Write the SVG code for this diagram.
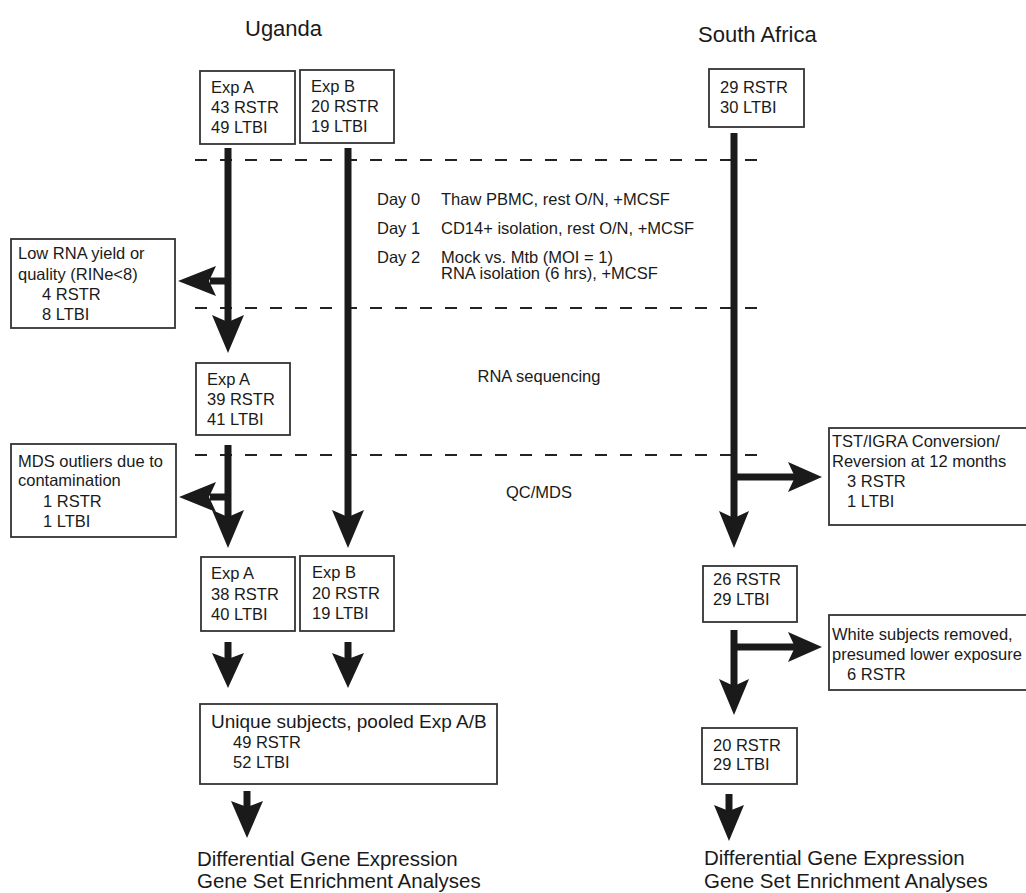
<svg xmlns="http://www.w3.org/2000/svg" width="1026" height="893" viewBox="0 0 1026 893">
<style>
text{font-family:"Liberation Sans",Arial,sans-serif;fill:#1a1a1a;font-size:16.5px}
.hdr{font-size:22px}
.big{font-size:20.5px}
.ttl{font-size:19px}
.box{fill:#fff;stroke:#333;stroke-width:1.8}
.dash{stroke:#222;stroke-width:2;stroke-dasharray:12 13;fill:none}
.shaft{stroke:#1a1a1a;stroke-width:7;fill:none}
.head{fill:#1a1a1a}
</style>
<rect width="1026" height="893" fill="#fff"/>
<text class="hdr" x="245" y="36">Uganda</text>
<text class="hdr" x="698" y="42">South Africa</text>
<g id="dividers">
<line class="dash" x1="195" y1="160" x2="768" y2="160"/>
<line class="dash" x1="195" y1="308" x2="768" y2="308"/>
<line class="dash" x1="195" y1="455" x2="768" y2="455"/>
</g>
<g id="steps">
<text x="377" y="205">Day 0</text><text x="441" y="205">Thaw PBMC, rest O/N, +MCSF</text>
<text x="377" y="234">Day 1</text><text x="441" y="234">CD14+ isolation, rest O/N, +MCSF</text>
<text x="377" y="263">Day 2</text><text x="441" y="263">Mock vs. Mtb (MOI = 1)</text>
<text x="441" y="279">RNA isolation (6 hrs), +MCSF</text>
<text x="539" y="382" text-anchor="middle">RNA sequencing</text>
<text x="539" y="498" text-anchor="middle">QC/MDS</text>
</g>
<g id="connectors">
<line class="shaft" x1="228" y1="148" x2="228" y2="322"/>
<line class="shaft" x1="228" y1="281" x2="210" y2="281"/>
<path class="head" d="M178,281 L216,266 L209,281 L216,296 Z"/>
<path class="head" d="M228,353 L212,315 L228,322 L244,315 Z"/>
<line class="shaft" x1="228" y1="445" x2="228" y2="517"/>
<line class="shaft" x1="228" y1="497" x2="210" y2="497"/>
<path class="head" d="M179,497 L216,482 L209,497 L216,512 Z"/>
<path class="head" d="M228,548 L212,510 L228,517 L244,510 Z"/>
<line class="shaft" x1="348" y1="148" x2="348" y2="517"/>
<path class="head" d="M348,548 L332,510 L348,517 L364,510 Z"/>
<line class="shaft" x1="228" y1="642" x2="228" y2="660"/>
<path class="head" d="M228,688 L212,653 L228,659 L244,653 Z"/>
<line class="shaft" x1="348" y1="642" x2="348" y2="660"/>
<path class="head" d="M348,688 L332,653 L348,659 L364,653 Z"/>
<line class="shaft" x1="247" y1="791" x2="247" y2="808"/>
<path class="head" d="M247,838 L231,801 L247,807 L263,801 Z"/>
<line class="shaft" x1="734" y1="133" x2="734" y2="518"/>
<line class="shaft" x1="734" y1="477" x2="795" y2="477"/>
<path class="head" d="M822,477 L788,462 L795,477 L788,492 Z"/>
<path class="head" d="M734,548 L719,511 L734,518 L749,511 Z"/>
<line class="shaft" x1="734" y1="630" x2="734" y2="686"/>
<line class="shaft" x1="734" y1="647" x2="795" y2="647"/>
<path class="head" d="M822,647 L788,632 L795,647 L788,662 Z"/>
<path class="head" d="M734,715 L719,679 L734,686 L749,679 Z"/>
<line class="shaft" x1="729" y1="794" x2="729" y2="812"/>
<path class="head" d="M729,841 L714,805 L729,811 L744,805 Z"/>
</g>
<g id="ug-expA-1"><rect class="box" x="200" y="71" width="95" height="73"/>
<text x="211" y="93">Exp A</text><text x="211" y="113">43 RSTR</text><text x="211" y="133">49 LTBI</text></g>
<g id="ug-expB-1"><rect class="box" x="300" y="70" width="94" height="73"/>
<text x="311" y="92">Exp B</text><text x="311" y="112">20 RSTR</text><text x="311" y="132">19 LTBI</text></g>
<g id="sa-1"><rect class="box" x="709" y="69" width="95" height="58"/>
<text x="720" y="93">29 RSTR</text><text x="720" y="113">30 LTBI</text></g>
<g id="low-rna"><rect class="box" x="11" y="239" width="164" height="89"/>
<text x="18" y="259">Low RNA yield or</text><text x="18" y="280">quality (RINe&lt;8)</text>
<text x="42" y="300">4 RSTR</text><text x="42" y="320">8 LTBI</text></g>
<g id="ug-expA-2"><rect class="box" x="196" y="363" width="94" height="72"/>
<text x="207" y="385">Exp A</text><text x="207" y="405">39 RSTR</text><text x="207" y="425">41 LTBI</text></g>
<g id="mds"><rect class="box" x="11" y="444" width="165" height="93"/>
<text x="18" y="467">MDS outliers due to</text><text x="18" y="486">contamination</text>
<text x="43" y="507">1 RSTR</text><text x="43" y="527">1 LTBI</text></g>
<g id="tst"><rect class="box" x="829" y="428" width="200" height="97"/>
<text x="832" y="447">TST/IGRA Conversion/</text><text x="832" y="467">Reversion at 12 months</text>
<text x="847" y="487">3 RSTR</text><text x="847" y="507">1 LTBI</text></g>
<g id="ug-expA-3"><rect class="box" x="201" y="557" width="94" height="74"/>
<text x="211" y="579">Exp A</text><text x="211" y="600">38 RSTR</text><text x="211" y="620">40 LTBI</text></g>
<g id="ug-expB-3"><rect class="box" x="300" y="556" width="94" height="75"/>
<text x="312" y="578">Exp B</text><text x="312" y="599">20 RSTR</text><text x="312" y="619">19 LTBI</text></g>
<g id="sa-2"><rect class="box" x="703" y="566" width="94" height="56"/>
<text x="713" y="585">26 RSTR</text><text x="713" y="605">29 LTBI</text></g>
<g id="white"><rect class="box" x="829" y="615" width="200" height="75"/>
<text x="832" y="640">White subjects removed,</text><text x="832" y="660">presumed lower exposure</text>
<text x="847" y="680">6 RSTR</text></g>
<g id="unique"><rect class="box" x="200" y="704" width="297" height="80"/>
<text class="ttl" x="211" y="728">Unique subjects, pooled Exp A/B</text>
<text x="233" y="748">49 RSTR</text><text x="233" y="768">52 LTBI</text></g>
<g id="sa-3"><rect class="box" x="702" y="728" width="95" height="56"/>
<text x="713" y="751">20 RSTR</text><text x="713" y="770">29 LTBI</text></g>
<g id="ug-out"><text class="big" x="197" y="866">Differential Gene Expression</text>
<text class="big" x="197" y="888">Gene Set Enrichment Analyses</text></g>
<g id="sa-out"><text class="big" x="704" y="865">Differential Gene Expression</text>
<text class="big" x="704" y="888">Gene Set Enrichment Analyses</text></g>
</svg>
